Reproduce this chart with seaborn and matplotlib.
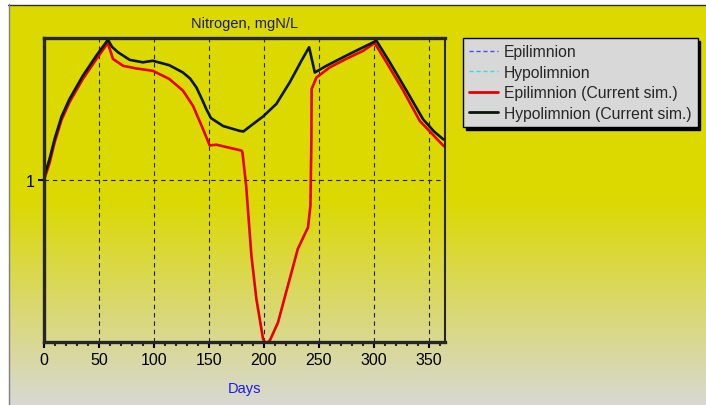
import numpy as np
import pandas as pd
import seaborn as sns
import matplotlib.pyplot as plt
from matplotlib.lines import Line2D
from matplotlib.ticker import FixedLocator, NullLocator, MultipleLocator

# values (days, mgN/L)
hypo_days = [0, 5, 9.6, 16, 23.3, 35.4, 47.6, 58.2, 62, 67.3, 78, 90, 99, 114, 126.5,
             133, 138.7, 144, 147.8, 152, 163, 178, 181.5, 190, 199.4, 211.5, 223.7,
             234.3, 241.3, 246.5, 257, 275, 290.5, 302.6, 314.8, 330, 345, 355, 363.3, 365]
hypo_n = [1.03, 1.23, 1.50, 1.88, 2.24, 2.82, 3.44, 4.03, 3.75, 3.56, 3.30, 3.22, 3.27,
          3.13, 2.91, 2.74, 2.51, 2.22, 2.02, 1.85, 1.71, 1.63, 1.62, 1.74, 1.88, 2.13,
          2.64, 3.27, 3.74, 2.91, 3.11, 3.44, 3.74, 3.99, 3.22, 2.43, 1.83, 1.62, 1.50, 1.49]

epi_days = [0, 5, 9.6, 16, 23.3, 35.4, 47.6, 58, 62.8, 72, 84, 99, 114, 126.5, 135.6,
            144.7, 150.8, 157, 179.7, 180.6, 184, 188.8, 193.3, 199.4, 202.4, 206,
            213, 222, 231, 240.3, 242.5, 243.4, 243.6, 248, 260, 275, 290.5, 301,
            311.7, 327, 342, 355, 363.3, 365]
epi_n = [1.00, 1.18, 1.45, 1.82, 2.17, 2.73, 3.32, 3.90, 3.33, 3.11, 3.03, 2.96, 2.73,
         2.43, 2.09, 1.66, 1.41, 1.42, 1.34, 1.32, 0.945, 0.471, 0.307, 0.206, 0.195,
         0.205, 0.243, 0.350, 0.504, 0.625, 0.775, 1.50, 2.47, 2.77, 3.06, 3.33, 3.61,
         3.90, 3.22, 2.43, 1.80, 1.55, 1.41, 1.39]

legend_labels = ["Epilimnion", "Hypolimnion", "Epilimnion (Current sim.)", "Hypolimnion (Current sim.)"]
x_ticks = [0, 50, 100, 150, 200, 250, 300, 350]

sns.set_style("ticks")
plt.rcParams['font.family'] = ['Liberation Sans', 'DejaVu Sans']

W, H = 706, 406
fig = plt.figure(figsize=(W / 100, H / 100), dpi=100)

# background: yellow fading to grey, with the panel edge
bg = fig.add_axes([0, 0, 1, 1], zorder=-5)
bg.set_xlim(0, W)
bg.set_ylim(H, 0)
bg.axis("off")
yellow = np.array([220, 217, 0]) / 255
grey = np.array([216, 216, 212]) / 255
rows = np.arange(H)
t = np.clip((rows - 200) / (H - 200), 0, 1)[:, None]
grad = (1 - t) * yellow + t * grey
bg.imshow(np.repeat(grad[:, None, :], 2, axis=1), extent=[0, W, H, 0], aspect="auto")
bg.fill_between([0, W], 0, 5, color="white")
bg.fill_between([0, 8], 0, H, color="white")
bg.plot([8, W], [5.5, 5.5], color="#303030", lw=1)
bg.plot([8.5, 8.5], [5, H], color="#808080", lw=1)

ax = fig.add_axes([44 / W, 1 - 343 / H, (445 - 44) / W, (343 - 39) / H])
ax.patch.set_alpha(0)

epi = pd.DataFrame({"day": epi_days, "n": epi_n})
hypo = pd.DataFrame({"day": hypo_days, "n": hypo_n})
sns.lineplot(data=epi, x="day", y="n", color="#E60000", lw=1.9, sort=False, estimator=None, ax=ax)
sns.lineplot(data=hypo, x="day", y="n", color="#0A160A", lw=1.9, sort=False, estimator=None, ax=ax)

ax.set_yscale("log")
ax.set_xlim(0, 365)
ax.set_ylim(0.2, 4.1)
ax.yaxis.set_major_locator(FixedLocator([1]))
ax.yaxis.set_minor_locator(NullLocator())
ax.set_yticklabels(["1"])
ax.xaxis.set_major_locator(FixedLocator(x_ticks))
ax.xaxis.set_minor_locator(MultipleLocator(10))
ax.tick_params(axis="both", which="major", direction="out", length=4, width=1.5,
               labelsize=11.5, colors="black", pad=3)
ax.tick_params(axis="x", which="minor", direction="out", length=3, width=1.5)
ax.grid(True, which="major", color="#222222", ls=(0, (4, 3.5)), lw=0.8)

for side in ["left", "bottom", "top"]:
    ax.spines[side].set_linewidth(2.4)
    ax.spines[side].set_visible(True)
ax.spines["right"].set_visible(True)
ax.spines["right"].set_linewidth(1.5)

ax.set_xlabel("Days", color="#1a1aee", fontsize=10.5, labelpad=10)
ax.set_ylabel("")
ax.set_title("Nitrogen, mgN/L", color="#1a1a6e", fontsize=10.5, pad=8)

handles = [
    Line2D([], [], color="#4a4aff", ls=(0, (3, 2)), lw=1),
    Line2D([], [], color="#30e0e0", ls=(0, (3, 2)), lw=1),
    Line2D([], [], color="#E60000", lw=2),
    Line2D([], [], color="#0A160A", lw=2),
]
leg = fig.legend(handles, legend_labels, loc="upper left", bbox_to_anchor=(463 / W, 1 - 39 / H),
                 frameon=True, fancybox=False, shadow={"color": "black", "alpha": 1},
                 fontsize=11.3, handlelength=1.8, handletextpad=0.4, borderpad=0.4,
                 labelspacing=0.35, borderaxespad=0)
leg.get_frame().set_facecolor("#d8d8d8")
leg.get_frame().set_edgecolor("black")
leg.get_frame().set_linewidth(1)

fig.savefig("out.png", dpi=100)
